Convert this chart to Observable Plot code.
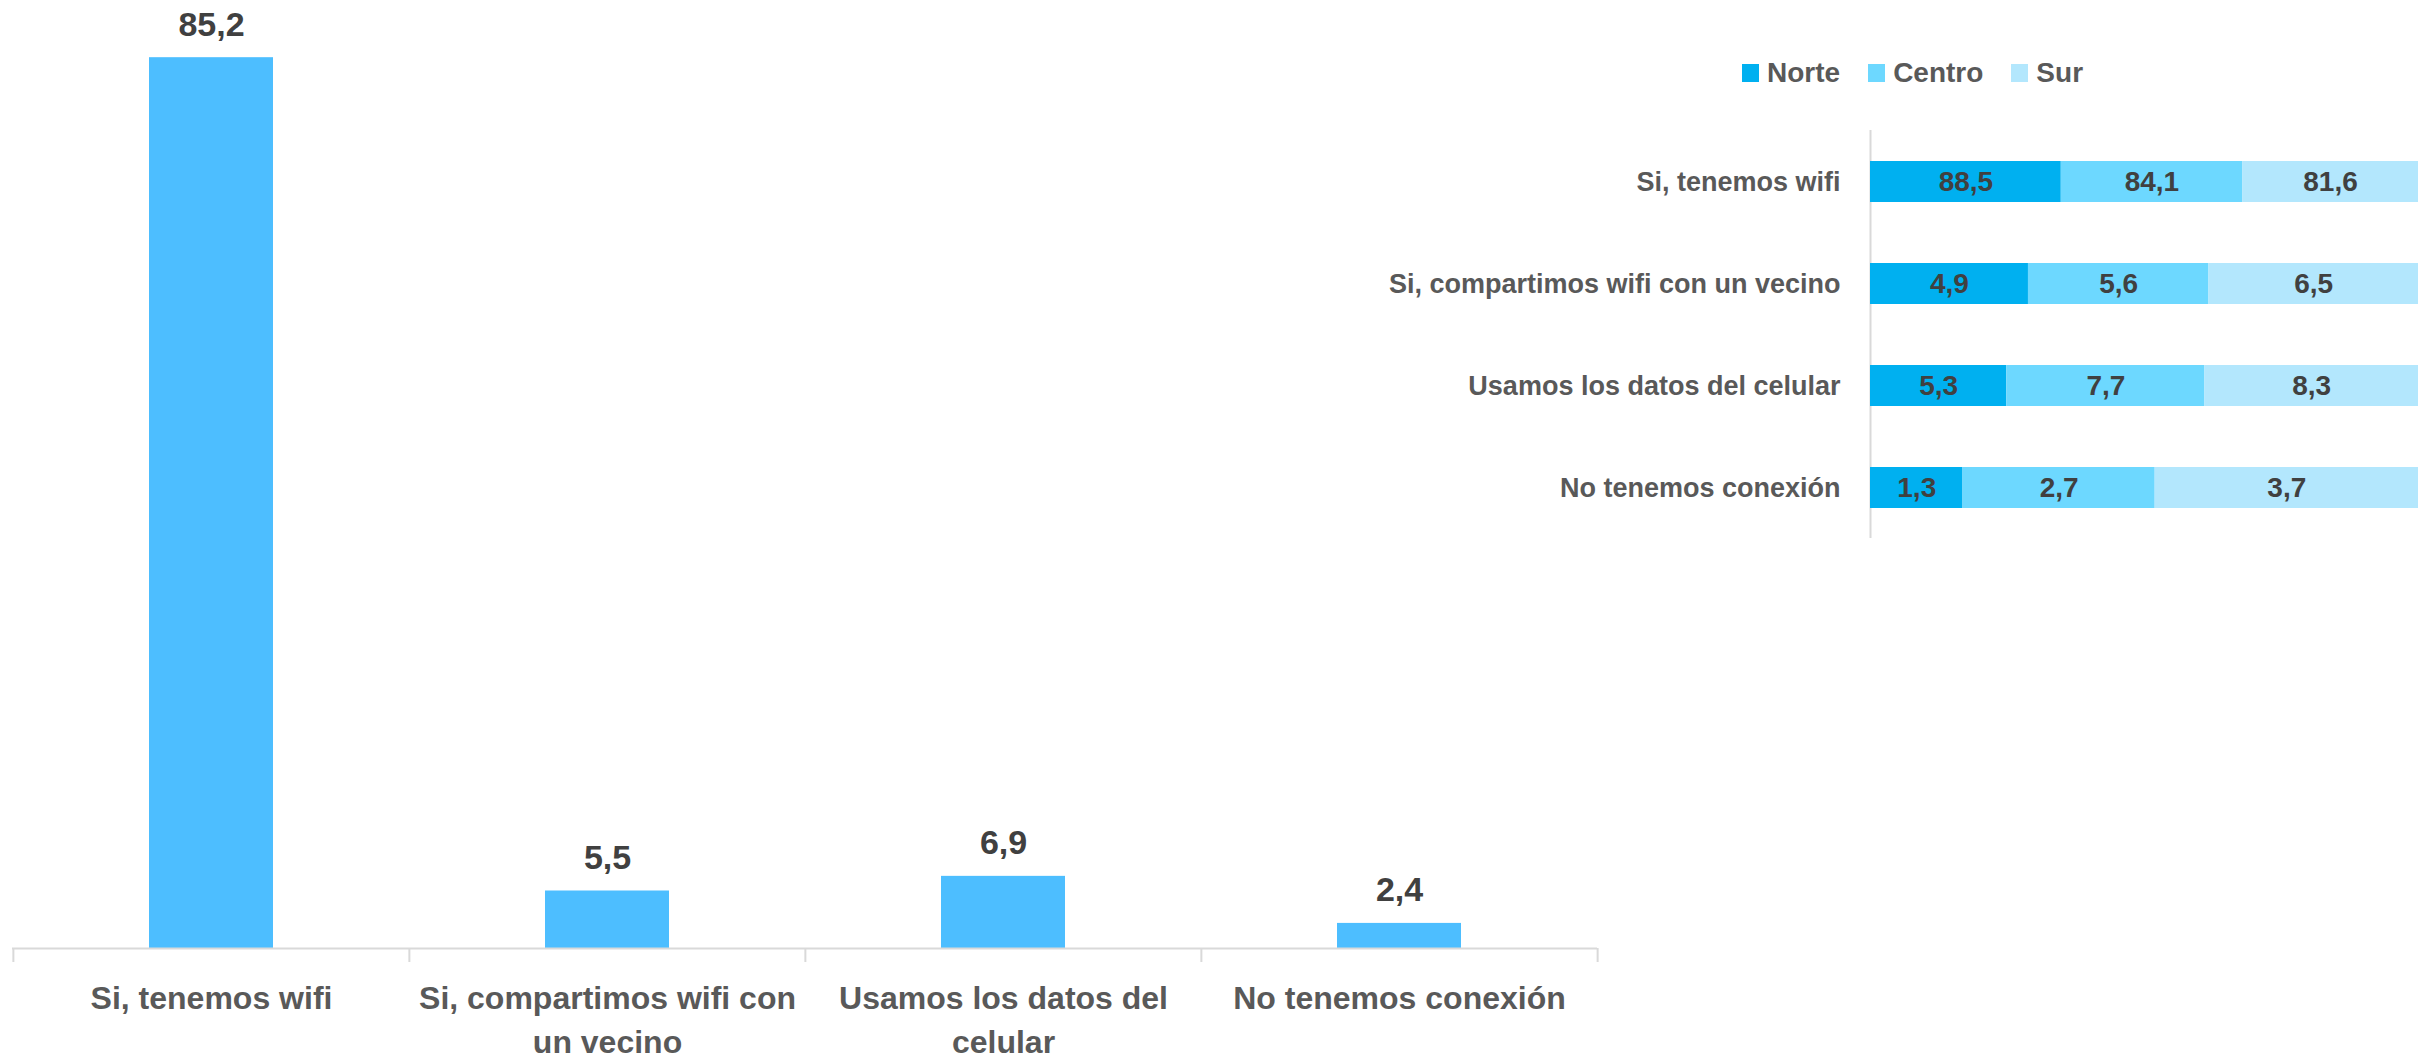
<!DOCTYPE html>
<html><head><meta charset="utf-8">
<script src="https://cdn.jsdelivr.net/npm/d3@7"></script>
<script src="https://cdn.jsdelivr.net/npm/@observablehq/plot@0.6"></script>
<style>
html,body{margin:0;padding:0;background:#fff;}
body{width:2430px;height:1061px;overflow:hidden;position:relative;font-family:"Liberation Sans",Arial,sans-serif;}
#left{position:absolute;left:0;top:0;width:1620px;height:1061px;}
#right{position:absolute;left:1300px;top:0;width:1130px;height:560px;}
#legend{position:absolute;left:1742px;top:64px;display:flex;align-items:center;height:18px;}
#legend .item{display:flex;align-items:center;margin-right:28px;}
#legend .sw{width:17px;height:18px;margin-right:8px;}
#legend .lb{font-size:28px;font-weight:bold;color:#595959;line-height:18px;}
</style></head><body>
<div id="left"></div><div id="right"></div><div id="legend"></div>
<script>
// ---- data ----
const categories = ["Si, tenemos wifi", "Si, compartimos wifi con un vecino", "Usamos los datos del celular", "No tenemos conexión"];
const categoryLabelsLeft = ["Si, tenemos wifi", "Si, compartimos wifi con\nun vecino", "Usamos los datos del\ncelular", "No tenemos conexión"];
const totals = [85.2, 5.5, 6.9, 2.4];
const regions = ["Norte", "Centro", "Sur"];
const norte = [88.5, 4.9, 5.3, 1.3];
const centro = [84.1, 5.6, 7.7, 2.7];
const sur = [81.6, 6.5, 8.3, 3.7];
const regionColors = ["#00b0f0", "#6dd8ff", "#b3e7fd"];
const barColor = "#4dbeff";

const fmt = v => v.toFixed(1).replace(".", ",");
const FONT = '"Liberation Sans", Arial, sans-serif';

// ---- left chart ----
const leftData = categories.map((c, i) => ({cat: c, value: totals[i]}));
const labelOf = new Map(categories.map((c, i) => [c, categoryLabelsLeft[i]]));
const LW = 1620, LH = 1061, LmL = 12, LmR = 23, LmB = 113, LmT = 7;
const pIn = 0.688, pOut = pIn / 2;
const step = (LW - LmL - LmR) / (categories.length - pIn + 2 * pOut);

const left = Plot.plot({
  width: LW, height: LH,
  marginLeft: LmL, marginRight: LmR, marginTop: LmT, marginBottom: LmB,
  style: {fontFamily: FONT, background: "transparent", maxWidth: "none", overflow: "visible"},
  x: {domain: categories, paddingInner: pIn, paddingOuter: pOut, axis: null},
  y: {domain: [0, 90], axis: null},
  marks: [
    Plot.barY(leftData, {x: "cat", y: "value", fill: barColor}),
    Plot.ruleY([0], {stroke: "#d9d9d9", strokeWidth: 2}),
    Plot.axisX({tickSize: 14, tickFormat: () => "", label: null, dx: -step / 2, stroke: "#d9d9d9", strokeWidth: 2}),
    Plot.axisX([categories[categories.length - 1]], {tickSize: 14, tickFormat: () => "", label: null, dx: step / 2, stroke: "#d9d9d9", strokeWidth: 2}),
    Plot.axisX({tickSize: 0, tickPadding: 30, label: null, tickFormat: d => labelOf.get(d), fontSize: 32, fontWeight: "bold", fill: "#595959", lineHeight: 1.36}),
    Plot.text(leftData, {x: "cat", y: "value", text: d => fmt(d.value), dy: -22, lineAnchor: "bottom", fontSize: 34, fontWeight: "bold", fill: "#404040"})
  ]
});
document.getElementById("left").appendChild(left);

// ---- right chart ----
const series = [norte, centro, sur];
const rightData = [];
categories.forEach((c, i) => regions.forEach((r, j) => rightData.push({cat: c, region: r, value: series[j][i]})));

const right = Plot.plot({
  width: 1130, height: 560,
  marginLeft: 570, marginRight: 12, marginTop: 130, marginBottom: 22,
  style: {fontFamily: FONT, background: "transparent", maxWidth: "none", overflow: "visible"},
  x: {domain: [0, 1], axis: null},
  y: {domain: categories, paddingInner: 0.6, paddingOuter: 0.3, axis: null},
  color: {domain: regions, range: regionColors},
  marks: [
    Plot.ruleX([0], {stroke: "#d9d9d9", strokeWidth: 2}),
    Plot.barX(rightData, Plot.stackX({offset: "normalize", order: regions, x: "value", y: "cat", fill: "region"})),
    Plot.textX(rightData, Plot.stackX({offset: "normalize", order: regions, x: "value", y: "cat", z: "region", text: d => fmt(d.value), fontSize: 28, fontWeight: "bold", fill: "#404040"})),
    Plot.axisY({tickSize: 0, tickPadding: 30, label: null, fontSize: 27, fontWeight: "bold", fill: "#595959"})
  ]
});
document.getElementById("right").appendChild(right);

// ---- legend ----
const legend = document.getElementById("legend");
regions.forEach((r, j) => {
  const item = document.createElement("div"); item.className = "item";
  const sw = document.createElement("div"); sw.className = "sw"; sw.style.background = regionColors[j];
  const lb = document.createElement("div"); lb.className = "lb"; lb.textContent = r;
  item.appendChild(sw); item.appendChild(lb); legend.appendChild(item);
});
</script>
</body></html>
